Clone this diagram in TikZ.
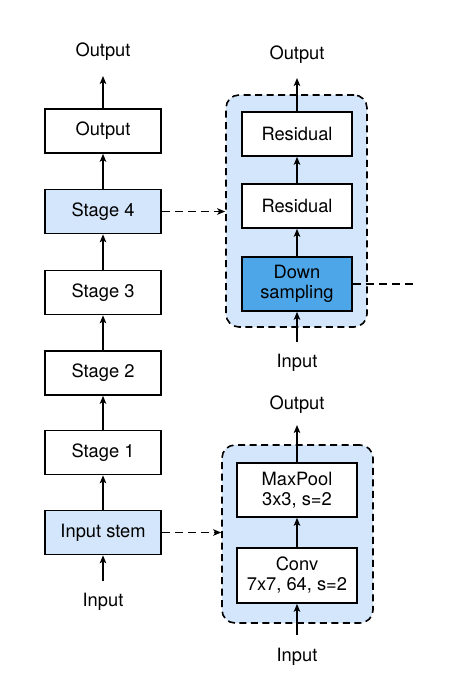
\documentclass[tikz,border=0pt]{standalone}
\usepackage{fontspec}
\setmainfont{TeX Gyre Heros}
\usetikzlibrary{arrows.meta}
\definecolor{paleblue}{HTML}{D4E6FB}
\definecolor{deepblue}{HTML}{4DA6E8}
\begin{document}
\begin{tikzpicture}[x=1pt,y=-1pt,
  every node/.style={font=\fontsize{18.3}{21}\selectfont},
  blk/.style={draw,line width=1.6pt,fill=white,inner sep=0pt,align=center},
  frame/.style={draw,dash pattern=on 7pt off 4.5pt,line width=1.6pt,rounded corners=13pt,fill=paleblue},
  flow/.style={line width=1.6pt,-{Stealth[length=8pt,width=6.5pt,inset=2pt]}},
  link/.style={line width=1.6pt,dash pattern=on 8pt off 5pt},
  lbl/.style={inner sep=0pt}]
\useasboundingbox (0,0) rectangle (476,683);

% main network column
\node[blk,minimum width=116pt,minimum height=44pt] (out) at (103,131) {Output};
\node[blk,fill=paleblue,minimum width=116pt,minimum height=44pt] (s4) at (103,211.5) {Stage 4};
\node[blk,minimum width=116pt,minimum height=44pt] (s3) at (103,292.5) {Stage 3};
\node[blk,minimum width=116pt,minimum height=44pt] (s2) at (103,373) {Stage 2};
\node[blk,minimum width=116pt,minimum height=44pt] (s1) at (103,452.5) {Stage 1};
\node[blk,fill=paleblue,minimum width=116pt,minimum height=44pt] (stem) at (103,532.5) {Input stem};
\node[lbl] (outlbl) at (103,52) {Output};
\node[lbl] (inlbl) at (103,602) {Input};
\coordinate (outtip) at (103,76);
\coordinate (inbase) at (103,581);

\draw[flow] (inbase) -- (stem.south);
\draw[flow] (stem) -- (s1);
\draw[flow] (s1) -- (s2);
\draw[flow] (s2) -- (s3);
\draw[flow] (s3) -- (s4);
\draw[flow] (s4) -- (out);
\draw[flow] (out.north) -- (outtip);

% stage detail
\node[frame,minimum width=141pt,minimum height=232pt] (stageframe) at (296.5,211) {};
\node[blk,minimum width=110pt,minimum height=44pt] (res1) at (297,134) {Residual};
\node[blk,minimum width=110pt,minimum height=44pt] (res2) at (297,206) {Residual};
\node[blk,fill=deepblue,minimum width=110pt,minimum height=54pt] (down) at (297,284) {Down\\[-1pt]sampling};
\node[lbl] (sout) at (297,55) {Output};
\node[lbl] (sin) at (297,363) {Input};
\coordinate (souttip) at (297,78);
\coordinate (sinbase) at (297,342);
\coordinate (dangle) at (413,284);

\draw[flow] (sinbase) -- (down.south);
\draw[flow] (down) -- (res2);
\draw[flow] (res2) -- (res1);
\draw[flow] (res1.north) -- (souttip);
\draw[link] (down.east) -- (dangle);
\draw[link,-{Stealth[length=8pt,width=6.5pt,inset=2pt]}] (s4.east) -- (s4.east -| stageframe.west);

% stem detail
\node[frame,minimum width=151pt,minimum height=178pt] (stemframe) at (297.5,534) {};
\node[blk,minimum width=120pt,minimum height=54pt] (pool) at (297,490) {MaxPool\\[-1pt]3x3, s=2};
\node[blk,minimum width=120pt,minimum height=55pt] (conv) at (297,575.5) {Conv\\[-1pt]7x7, 64, s=2};
\node[lbl] (pout) at (297,405) {Output};
\node[lbl] (pin) at (297,657) {Input};
\coordinate (pouttip) at (297,425);
\coordinate (pinbase) at (297,635);

\draw[flow] (pinbase) -- (conv.south);
\draw[flow] (conv) -- (pool);
\draw[flow] (pool.north) -- (pouttip);
\draw[link,-{Stealth[length=8pt,width=6.5pt,inset=2pt]}] (stem.east) -- (stem.east -| stemframe.west);
\end{tikzpicture}
\end{document}
